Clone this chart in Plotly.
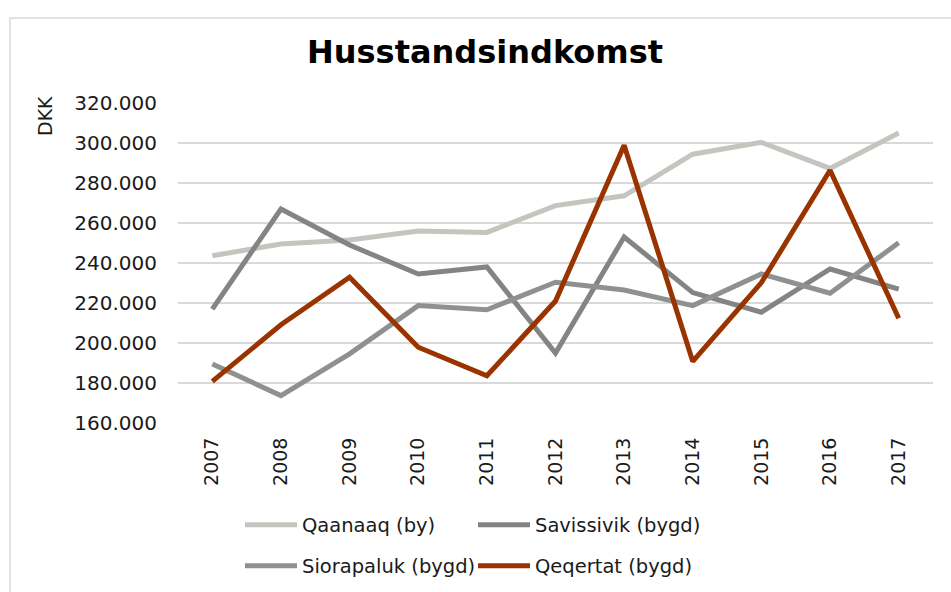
import plotly.graph_objects as go

years = ["2007", "2008", "2009", "2010", "2011", "2012", "2013", "2014", "2015", "2016", "2017"]
qaanaaq = [243600, 249500, 251500, 256000, 255300, 268700, 273600, 294400, 300300, 287300, 305000]
savissivik = [216900, 267000, 249000, 234500, 238000, 195000, 253000, 225200, 215400, 237000, 226900]
siorapaluk = [189500, 173700, 194600, 218700, 216600, 230400, 226500, 218700, 234500, 224900, 250100]
qeqertat = [180800, 209100, 232900, 197900, 183600, 221000, 298900, 190800, 230200, 286400, 212400]

names = ["Qaanaaq (by)", "Savissivik (bygd)", "Siorapaluk (bygd)", "Qeqertat (bygd)"]
colors = ["#C4C5BE", "#848484", "#8E928E", "#993300"]
series = [qaanaaq, savissivik, siorapaluk, qeqertat]
legends = ["legend", "legend", "legend2", "legend2"]

FONT = "DejaVu Sans"
W, H = 951, 592
fig = go.Figure()
for n, c, s, lg in zip(names, colors, series, legends):
    fig.add_trace(go.Scatter(x=years, y=s, name=n, mode="lines",
                             line=dict(color=c, width=5), legend=lg))

L, R, T, B = 178, 18, 103, 169
PW, PH = W - L - R, H - T - B
leg_common = dict(orientation="h", xref="container", yref="container", xanchor="left",
                  yanchor="middle", itemwidth=52, entrywidth=166, entrywidthmode="pixels",
                  font=dict(size=19.5), bgcolor="rgba(0,0,0,0)", tracegroupgap=0)
fig.update_layout(
    width=W, height=H,
    margin=dict(l=L, r=R, t=T, b=B, autoexpand=False),
    paper_bgcolor="white", plot_bgcolor="white",
    separators=",.",
    font=dict(family=FONT, size=19, color="#1a1a1a"),
    title=dict(text="<b>Husstandsindkomst</b>", x=485 / W, xanchor="center",
               y=1 - 52 / H, yanchor="middle", font=dict(size=32, color="#000000")),
    xaxis=dict(type="category", range=[-0.5, 10.5], tickangle=-90, showgrid=False, zeroline=False,
               ticks="outside", ticklen=6, tickcolor="rgba(0,0,0,0)", showline=False,
               tickfont=dict(size=19)),
    yaxis=dict(range=[160000, 320000], dtick=20000, tickformat=",.0f",
               showgrid=True, gridcolor="#D9D9D9", gridwidth=1.5, zeroline=False,
               ticks="outside", ticklen=16, tickcolor="rgba(0,0,0,0)", showline=False,
               tickfont=dict(size=20)),
    legend=dict(x=(240) / W, y=1 - 525 / H, **leg_common),
    legend2=dict(x=(240) / W, y=1 - 566 / H, **leg_common),
    showlegend=True,
)

fig.add_annotation(text="DKK", textangle=-90, x=(45 - L) / PW, y=(H - B - 116) / PH,
                   xref="paper", yref="paper", xanchor="center", yanchor="middle",
                   showarrow=False, font=dict(size=19))

fig.add_shape(type="rect", xref="paper", yref="paper",
              x0=(10 - L) / PW, x1=1.2, y0=-0.8, y1=(H - B - 18) / PH,
              line=dict(color="#D9D9D9", width=1.5), fillcolor="rgba(0,0,0,0)", layer="below")

fig.write_html("out.html", config={"displayModeBar": False},
               post_script="document.body.style.margin='0';")
